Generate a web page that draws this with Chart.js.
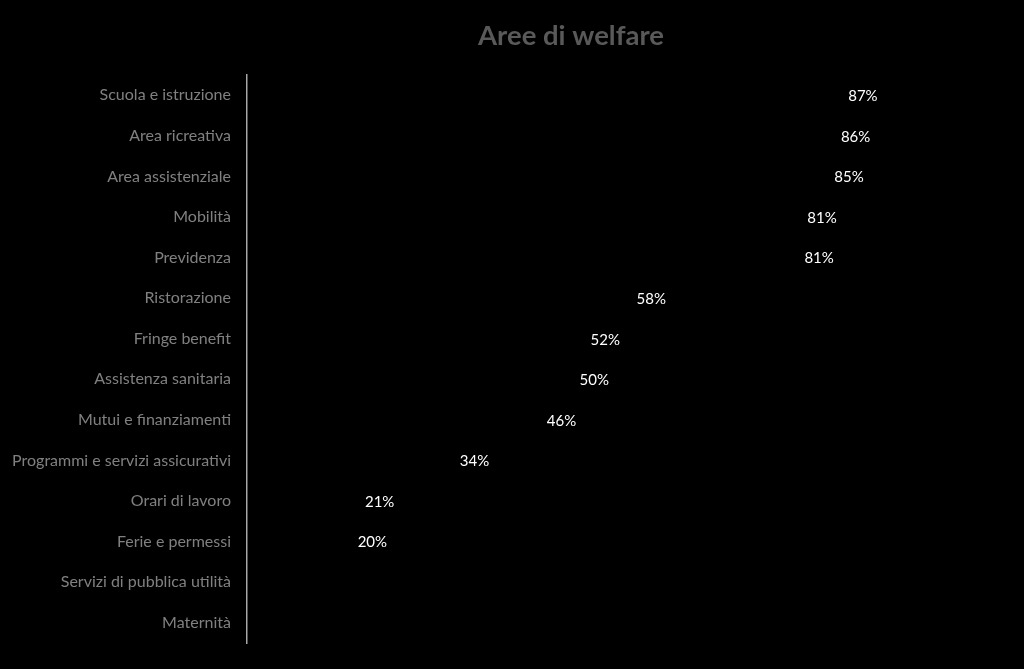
<!DOCTYPE html>
<html>
<head>
<meta charset="utf-8">
<script src="https://cdn.jsdelivr.net/npm/chart.js@4"></script>
<style>
  html, body { margin: 0; padding: 0; background: #000; }
  #wrap { width: 1024px; height: 669px; }
</style>
</head>
<body>
<div id="wrap"><canvas id="c" width="1024" height="669"></canvas></div>
<script>
const chartTitle = "Aree di welfare";
const categories = [
  "Scuola e istruzione",
  "Area ricreativa",
  "Area assistenziale",
  "Mobilità",
  "Previdenza",
  "Ristorazione",
  "Fringe benefit",
  "Assistenza sanitaria",
  "Mutui e finanziamenti",
  "Programmi e servizi assicurativi",
  "Orari di lavoro",
  "Ferie e permessi",
  "Servizi di pubblica utilità",
  "Maternità"
];
const values = [86.8, 85.8, 84.9, 81.2, 80.8, 57.8, 51.5, 50.0, 45.5, 33.6, 20.6, 19.6, null, null];

const bgPlugin = {
  id: 'bg',
  beforeDraw(chart) {
    const ctx = chart.ctx;
    ctx.save();
    ctx.fillStyle = '#000';
    ctx.fillRect(0, 0, chart.width, chart.height);
    ctx.restore();
  }
};

const titlePlugin = {
  id: 'customTitle',
  afterDraw(chart) {
    const ctx = chart.ctx;
    ctx.save();
    ctx.font = 'bold 27.5px Lato';
    ctx.fillStyle = '#595959';
    ctx.textAlign = 'center';
    ctx.textBaseline = 'middle';
    ctx.fillText(chartTitle, 571, 36);
    ctx.restore();
  }
};

const labelPlugin = {
  id: 'valueLabels',
  afterDatasetsDraw(chart) {
    const ctx = chart.ctx;
    const meta = chart.getDatasetMeta(0);
    ctx.save();
    ctx.font = '15px Lato';
    ctx.fillStyle = '#ffffff';
    ctx.textAlign = 'right';
    ctx.textBaseline = 'middle';
    meta.data.forEach((el, i) => {
      const v = chart.data.datasets[0].data[i];
      if (v === null || v === undefined) return;
      ctx.fillText(Math.round(v) + '%', el.x - 3, el.y + 1);
    });
    ctx.restore();
  }
};

new Chart(document.getElementById('c'), {
  type: 'bar',
  data: {
    labels: categories,
    datasets: [{
      data: values,
      backgroundColor: 'rgba(0,0,0,0)',
      borderWidth: 0,
      barPercentage: 0.6,
      categoryPercentage: 1.0
    }]
  },
  options: {
    indexAxis: 'y',
    responsive: false,
    animation: false,
    layout: { padding: { top: 75, bottom: 26, left: 0, right: 47 } },
    plugins: {
      legend: { display: false },
      title: { display: false },
      tooltip: { enabled: false }
    },
    scales: {
      x: {
        display: false,
        min: 0,
        max: 100
      },
      y: {
        grid: { display: false, drawTicks: false, tickLength: 0 },
        border: { display: true, color: '#a6a6a6', width: 1.5 },
        ticks: {
          color: '#808080',
          font: { family: 'Lato', size: 16 },
          padding: 16
        },
        afterFit(scale) { scale.width = 247; }
      }
    }
  },
  plugins: [bgPlugin, labelPlugin, titlePlugin]
});
</script>
</body>
</html>
